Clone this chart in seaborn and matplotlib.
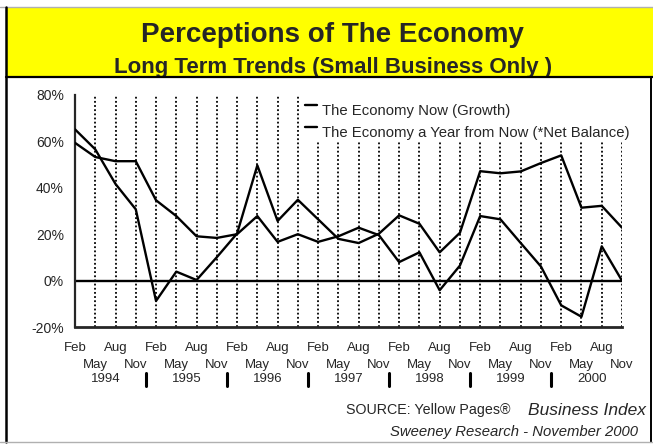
import numpy as np
import pandas as pd
import matplotlib
matplotlib.use("Agg")
import matplotlib.pyplot as plt
import matplotlib.transforms as mtransforms
from matplotlib.patches import Rectangle
from matplotlib.lines import Line2D
import seaborn as sns

# ---- data -------------------------------------------------------------
quarters = ["Feb", "May", "Aug", "Nov"]
years = ["1994", "1995", "1996", "1997", "1998", "1999", "2000"]

economy_now = [65.1, 56.5, 41.6, 30.7, -8.7, 3.9, 0.3, 10.1,
               20.3, 49.6, 25.7, 34.8, 26.4, 18.0, 16.2, 20.2,
               28.1, 24.5, 12.2, 20.6, 47.1, 46.2, 47.0, 50.6,
               53.9, 31.4, 32.2, 22.8]
economy_year_ahead = [59.3, 53.2, 51.4, 51.4, 34.6, 27.8, 19.1, 18.4,
                      20.0, 27.8, 16.7, 20.0, 16.7, 19.1, 22.8, 19.6,
                      8.0, 12.2, -4.1, 6.5, 27.8, 26.4, 16.2, 6.1,
                      -10.6, -15.5, 14.8, 0.0]
series_names = ["The Economy Now (Growth)",
                "The Economy a Year from Now (*Net Balance)"]
y_ticks = [-20, 0, 20, 40, 60, 80]

title = "Perceptions of The Economy"
subtitle = "Long Term Trends (Small Business Only )"
source_plain = "SOURCE: Yellow Pages\u00ae"
source_italic = "Business Index"
credit = "Sweeney Research - November 2000"

# ---- long-form table for seaborn --------------------------------------
n = len(years) * len(quarters)
period = np.arange(n)
df = pd.concat([
    pd.DataFrame({"period": period, "value": economy_now, "series": series_names[0]}),
    pd.DataFrame({"period": period, "value": economy_year_ahead, "series": series_names[1]}),
])

sns.set_style("white")
plt.rcParams["font.family"] = ["Liberation Sans", "DejaVu Sans"]

W, H = 653, 444
fig = plt.figure(figsize=(W / 100, H / 100), dpi=100)
fig.patch.set_facecolor("white")


def fx(px):
    return px / W


def fy(py):
    return 1 - py / H


# banner and outer frame
fig.add_artist(Rectangle((fx(6), fy(77)), fx(653) - fx(6), fy(7) - fy(77),
                         transform=fig.transFigure, facecolor="#FFFF00",
                         edgecolor="none", zorder=0))
frame_kw = dict(transform=fig.transFigure, color="black", zorder=5)
fig.add_artist(Line2D([fx(0), fx(653)], [fy(7), fy(7)], lw=1.0, color="#B0B0B0",
                      transform=fig.transFigure, zorder=5))
fig.add_artist(Line2D([fx(6), fx(653)], [fy(77), fy(77)], lw=1.6, **frame_kw))
fig.add_artist(Line2D([fx(6), fx(6)], [fy(7), fy(442)], lw=1.8, **frame_kw))
fig.add_artist(Line2D([fx(651), fx(651)], [fy(77), fy(442)], lw=1.4, **frame_kw))
fig.add_artist(Line2D([fx(0), fx(653)], [fy(442), fy(442)], lw=1.0, color="#B0B0B0",
                      transform=fig.transFigure, zorder=5))

fig.text(fx(332), fy(35), title, ha="center", va="center",
         fontsize=20, fontweight="bold")
fig.text(fx(333), fy(67), subtitle, ha="center", va="center",
         fontsize=16, fontweight="bold")

# ---- plot area ---------------------------------------------------------
ax_top, ax_bot = 94.7, 327.2
ax = fig.add_axes([fx(75), fy(ax_bot), fx(622) - fx(75), fy(ax_top) - fy(ax_bot)])
ax.set_facecolor("white")

sns.lineplot(data=df, x="period", y="value", hue="series",
             palette=["black", "black"], linewidth=1.7, legend=False,
             ax=ax, zorder=4)

ax.set_xlim(period[0], period[-1])
ax.set_ylim(y_ticks[0], y_ticks[-1])

# dotted period guides and the zero line
ax.vlines(period[1:], y_ticks[0], y_ticks[-1], colors="black",
          linestyles=(0, (1.0, 1.3)), linewidth=1.3, zorder=1)
ax.axhline(0, color="black", linewidth=1.7, zorder=2)

for side in ("top", "right"):
    ax.spines[side].set_visible(False)
ax.spines["left"].set_linewidth(1.6)
ax.spines["bottom"].set_linewidth(2.0)
ax.spines["left"].set_zorder(3)
ax.spines["bottom"].set_zorder(3)

ax.set_yticks(y_ticks)
ax.set_yticklabels([f"{v}%" for v in y_ticks], fontsize=10)
ax.tick_params(axis="y", direction="in", length=6, width=1.5, pad=8)

# month rows: Feb/Aug on the major ticks, May/Nov one row lower on minor ticks
month_cycle = quarters * len(years)
ax.set_xticks(period[0::2])
ax.set_xticklabels(month_cycle[0::2], fontsize=9.5)
ax.set_xticks(period[1::2], minor=True)
ax.set_xticklabels(month_cycle[1::2], minor=True, fontsize=9.5)
ax.tick_params(axis="x", which="major", length=0, pad=10.8)
ax.tick_params(axis="x", which="minor", length=0, pad=22.8)
ax.set_xlabel("")
ax.set_ylabel("")

# year captions and separators below the month rows
axh = ax_bot - ax_top
blend = mtransforms.blended_transform_factory(ax.transData, ax.transAxes)
nq = len(quarters)
for k, yr in enumerate(years):
    xc = period[k * nq:(k + 1) * nq].mean()
    ax.text(xc, (ax_bot - 379) / axh, yr, transform=blend,
            ha="center", va="center", fontsize=9.5)
for k in range(1, len(years)):
    xs = period[k * nq] - 0.5
    ax.add_line(Line2D([xs, xs], [(ax_bot - 373) / axh, (ax_bot - 386) / axh],
                       transform=blend, color="black", lw=2.2, clip_on=False))

# legend block: white panel over the guides, short keys and labels
ax.add_patch(Rectangle((fx(303), fy(141)), fx(646) - fx(303), fy(92) - fy(141),
                       transform=fig.transFigure, facecolor="white",
                       edgecolor="none", zorder=2.5, clip_on=False))
for row, name in enumerate(series_names):
    ty = 111 + row * 21.5
    ax.add_line(Line2D([fx(305), fx(317)], [fy(ty - 6), fy(ty - 6)],
                       transform=fig.transFigure, color="black", lw=1.7,
                       zorder=3, clip_on=False))
    fig.text(fx(322), fy(ty), name, ha="left", va="center", fontsize=10.7, zorder=6)

# source lines
renderer = fig.canvas.get_renderer()
t_it = fig.text(fx(646), fy(410), source_italic, ha="right", va="center",
                fontsize=12.5, style="italic")
bb = t_it.get_window_extent(renderer=renderer)
fig.text((bb.x0 - 18) / W, fy(410), source_plain, ha="right", va="center",
         fontsize=10.3)
fig.text(fx(638), fy(432), credit, ha="right", va="center",
         fontsize=10.7, style="italic")

fig.savefig("out.png", dpi=100, facecolor="white")
